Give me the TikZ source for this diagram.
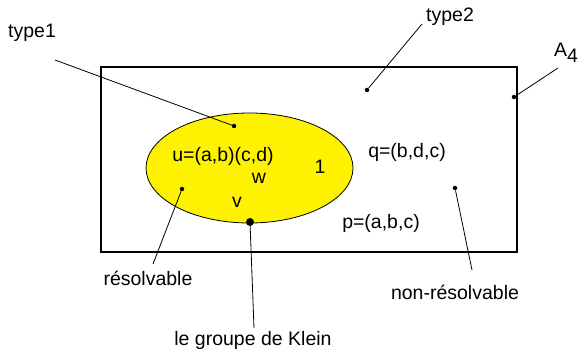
\documentclass[tikz,border=0pt]{standalone}
\usepackage{fontspec}
\setmainfont{Liberation Sans}
\usepackage{xcolor}

\begin{document}
\begin{tikzpicture}[x=1pt,y=-1pt,
    lbl/.style={font=\fontsize{19.5}{22}\selectfont, inner sep=0pt},
    pt/.style={circle, fill=black, inner sep=0pt, minimum size=4.5pt}]
    \useasboundingbox (0,0) rectangle (584,350);
    % the group A4 and the Klein subgroup
    \draw[line width=1.1pt] (101,67) rectangle (517,252);
    \filldraw[fill=yellow, line width=0.8pt] (249.5,168) ellipse [x radius=103.5, y radius=55];
    % elements
    \node[lbl] (u) at (223,156) {u=(a,b)(c,d)};
    \node[lbl] (w) at (259,178) {w};
    \node[lbl] (one) at (320,167) {1};
    \node[lbl] (v) at (237,202) {v};
    \node[lbl] (q) at (407,152) {q=(b,d,c)};
    \node[lbl] (p) at (381,223) {p=(a,b,c)};
    % labels
    \node[lbl] (type1) at (32,33) {type1};
    \node[lbl] (type2) at (450,17) {type2};
    \node[lbl] (A4) at (566,53) {A\raisebox{-0.55ex}{4}};
    \node[lbl] (res) at (148,278) {résolvable};
    \node[lbl] (nonres) at (455,292) {non-résolvable};
    \node[lbl] (klein) at (253,340) {le groupe de Klein};
    % marked points
    \node[pt] (d1) at (234,126) {};
    \node[pt] (d2) at (367,90) {};
    \node[pt] (dA) at (514,97) {};
    \node[pt] (dres) at (182,189) {};
    \node[pt] (dnon) at (455,188) {};
    \node[pt, minimum size=8pt] (dK) at (250,222) {};
    \coordinate (e1) at (55,60);
    \coordinate (e2) at (422,24);
    \coordinate (eA) at (558,68);
    \coordinate (eres) at (153,264);
    \coordinate (enon) at (472,270);
    \coordinate (eK) at (254,328);
    % pointers
    \draw[line width=0.8pt] (e1) -- (d1);
    \draw[line width=0.8pt] (e2) -- (d2);
    \draw[line width=0.8pt] (eA) -- (dA);
    \draw[line width=0.8pt] (eres) -- (dres);
    \draw[line width=0.8pt] (enon) -- (dnon);
    \draw[line width=0.8pt] (eK) -- (dK);
\end{tikzpicture}
\end{document}
